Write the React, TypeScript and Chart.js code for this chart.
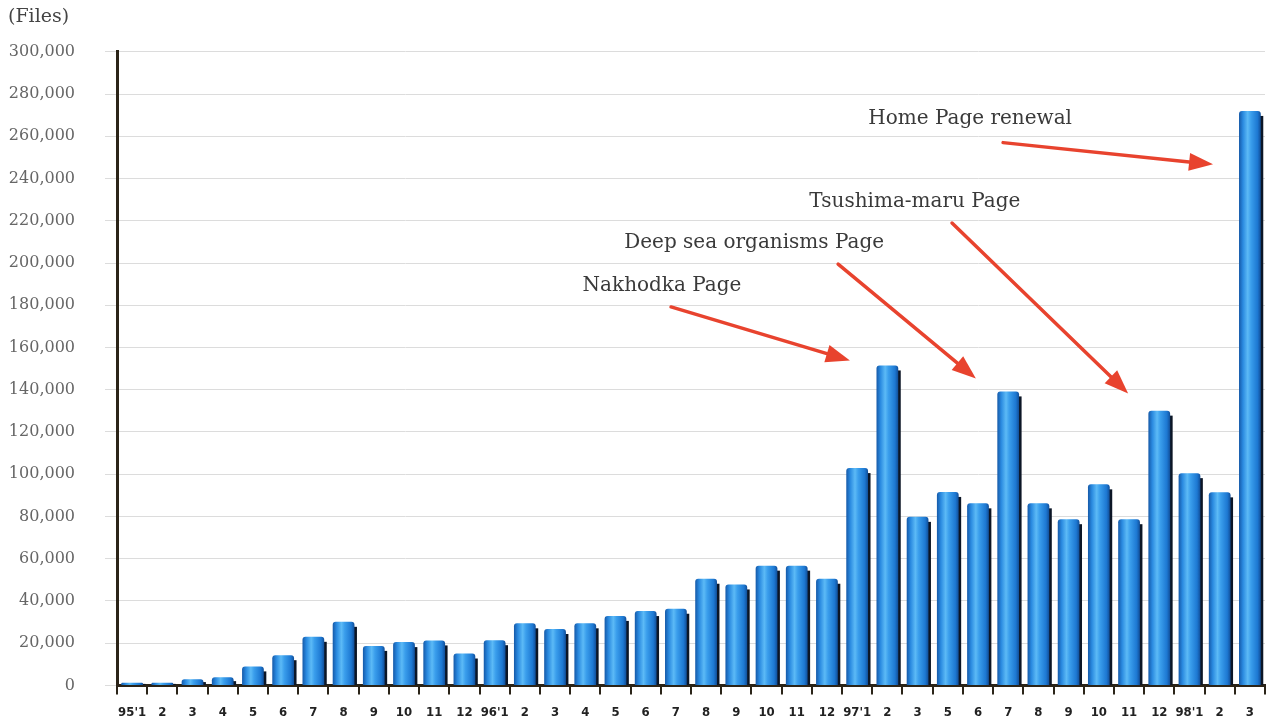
import React, { useEffect, useRef } from "react";
import { Chart, registerables } from "chart.js";

Chart.register(...registerables);

const categories = [
  "95'1", "2", "3", "4", "5", "6", "7", "8", "9", "10", "11", "12",
  "96'1", "2", "3", "4", "5", "6", "7", "8", "9", "10", "11", "12",
  "97'1", "2", "3", "5", "6", "7", "8", "9", "10", "11", "12",
  "98'1", "2", "3",
];

const files = [
  1200, 1200, 2900, 3800, 9000, 14300, 23000, 30100, 18700, 20500, 21300, 15100,
  21400, 29400, 26700, 29400, 32900, 35200, 36300, 50500, 47800, 56700, 56700, 50500,
  102900, 151500, 79800, 91600, 86200, 139200, 86200, 78700, 95200, 78700, 130100,
  100500, 91400, 272000,
];

const yTicks = [0, 20000, 40000, 60000, 80000, 100000, 120000, 140000, 160000, 180000, 200000, 220000, 240000, 260000, 280000, 300000];

// annotation texts and anchors in data units (category index, files)
const noteTexts = ["Home Page renewal", "Tsushima-maru Page", "Deep sea organisms Page", "Nakhodka Page"];
const noteTextAt = [[27.74, 268400], [25.91, 229200], [20.59, 209400], [17.54, 189200]];
const noteArrowFrom = [[28.83, 257000], [27.14, 218900], [23.37, 199500], [17.84, 179200]];
const noteArrowTo = [[35.78, 246700], [32.97, 138200], [27.93, 145300], [23.76, 153800]];

const BAR_PCT = 0.72;

const barDecor = {
  id: "barDecor",
  beforeDatasetsDraw(chart: any) {
    const ctx = chart.ctx;
    const meta = chart.getDatasetMeta(0);
    ctx.save();
    meta.data.forEach((el: any) => {
      const w = el.width;
      const h = el.base - el.y;
      if (h <= 0) return;
      ctx.fillStyle = "#0c1626";
      const start = Math.min(5, h / 2);
      ctx.fillRect(el.x + w / 2 - 1, el.y + start, 3.5, h - start);
    });
    ctx.restore();
  },
};

const notes = {
  id: "notes",
  afterDraw(chart: any) {
    const ctx = chart.ctx;
    const xs = chart.scales.x;
    const ys = chart.scales.y;
    ctx.save();
    ctx.font = "20px 'DejaVu Serif', serif";
    ctx.fillStyle = "#3a3a3a";
    ctx.textAlign = "center";
    ctx.textBaseline = "middle";
    noteTexts.forEach((t, i) => {
      ctx.fillText(t, xs.getPixelForValue(noteTextAt[i][0]), ys.getPixelForValue(noteTextAt[i][1]));
    });
    ctx.strokeStyle = "#e8432e";
    ctx.fillStyle = "#e8432e";
    ctx.lineWidth = 3.5;
    ctx.lineCap = "round";
    noteArrowFrom.forEach((f, i) => {
      const x1 = xs.getPixelForValue(f[0]);
      const y1 = ys.getPixelForValue(f[1]);
      const x2 = xs.getPixelForValue(noteArrowTo[i][0]);
      const y2 = ys.getPixelForValue(noteArrowTo[i][1]);
      const ang = Math.atan2(y2 - y1, x2 - x1);
      const headL = 24;
      const headW = 9;
      const bx = x2 - headL * Math.cos(ang);
      const by = y2 - headL * Math.sin(ang);
      ctx.beginPath();
      ctx.moveTo(x1, y1);
      ctx.lineTo(bx, by);
      ctx.stroke();
      ctx.beginPath();
      ctx.moveTo(x2, y2);
      ctx.lineTo(bx + headW * Math.sin(ang), by - headW * Math.cos(ang));
      ctx.lineTo(bx - headW * Math.sin(ang), by + headW * Math.cos(ang));
      ctx.closePath();
      ctx.fill();
    });
    ctx.restore();
  },
};

export default function App() {
  const ref = useRef<HTMLCanvasElement | null>(null);

  useEffect(() => {
    if (!ref.current) return;
    const chart = new Chart(ref.current, {
      type: "bar",
      data: {
        labels: categories,
        datasets: [
          {
            label: "Files",
            data: files,
            barPercentage: BAR_PCT,
            categoryPercentage: 1,
            borderRadius: { topLeft: 3, topRight: 3, bottomLeft: 0, bottomRight: 0 },
            borderSkipped: "bottom",
            backgroundColor: (c: any) => {
              const chart = c.chart;
              const area = chart.chartArea;
              if (!area || c.type !== "data") return "#1e7fd8";
              const cx = chart.scales.x.getPixelForValue(c.dataIndex);
              const w = (area.width / categories.length) * BAR_PCT;
              const g = chart.ctx.createLinearGradient(cx - w / 2, 0, cx + w / 2, 0);
              g.addColorStop(0, "#1559a8");
              g.addColorStop(0.18, "#2a8ae0");
              g.addColorStop(0.4, "#5cbaf6");
              g.addColorStop(0.55, "#3a9eec");
              g.addColorStop(0.85, "#1d78d2");
              g.addColorStop(1, "#114e98");
              return g;
            },
          },
        ],
      },
      options: {
        responsive: true,
        maintainAspectRatio: false,
        animation: false,
        layout: { padding: { left: 8, right: 5, top: 0, bottom: 2 } },
        plugins: {
          legend: { display: false },
          tooltip: { enabled: false },
          title: {
            display: true,
            text: "(Files)",
            align: "start",
            color: "#444",
            font: { family: "'DejaVu Serif', serif", size: 19, weight: "normal" },
            padding: { top: 6, bottom: 23 },
          },
        },
        scales: {
          x: {
            offset: true,
            afterFit: (axis: any) => {
              axis.height = 37;
            },
            grid: {
              display: true,
              offset: true,
              drawOnChartArea: false,
              drawTicks: true,
              tickLength: 9,
              color: "#2b2418",
              lineWidth: 2,
            },
            border: { display: true, color: "#2b2418", width: 3 },
            ticks: {
              autoSkip: false,
              maxRotation: 0,
              minRotation: 0,
              padding: 10,
              color: "#222",
              font: { family: "'DejaVu Sans Condensed', 'DejaVu Sans', sans-serif", size: 13, weight: "bold" },
            },
          },
          y: {
            min: 0,
            max: 300000,
            afterBuildTicks: (axis: any) => {
              axis.ticks = yTicks.map((v) => ({ value: v }));
            },
            afterFit: (axis: any) => {
              axis.width = 109;
            },
            grid: {
              color: "#dcdcdc",
              lineWidth: 1,
              drawTicks: true,
              tickLength: 12,
            },
            border: { display: true, color: "#2b2418", width: 3 },
            ticks: {
              padding: 30,
              color: "#666",
              font: { family: "'DejaVu Serif', serif", size: 16 },
              callback: (v: any) => Number(v).toLocaleString("en-US"),
            },
          },
        },
      },
      plugins: [barDecor, notes],
    });
    return () => chart.destroy();
  }, []);

  return (
    <div style={{ position: "fixed", left: 0, top: 0, width: "100vw", height: "100vh", background: "#fff" }}>
      <canvas ref={ref} />
    </div>
  );
}
